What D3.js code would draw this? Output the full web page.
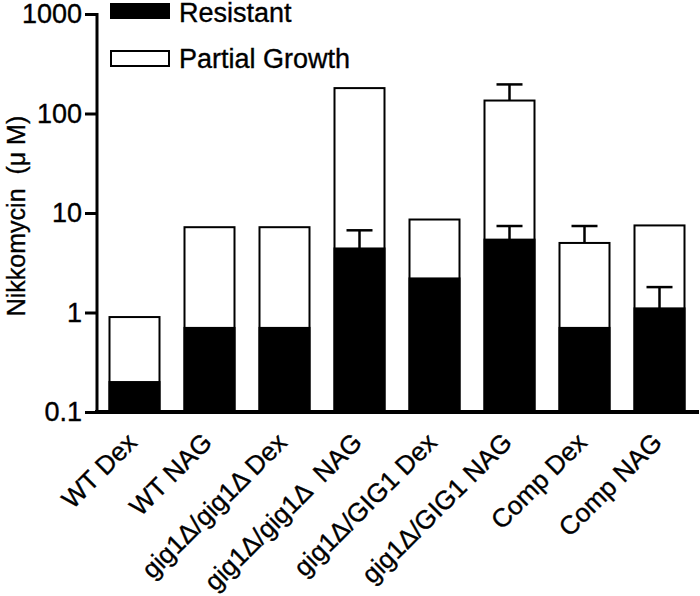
<!DOCTYPE html>
<html><head><meta charset="utf-8">
<script src="https://cdn.jsdelivr.net/npm/d3@7"></script>
<style>body{margin:0;background:#fff}svg{display:block}text{font-family:"Liberation Sans",Arial,sans-serif;fill:#000;white-space:pre;stroke:#000;stroke-width:0.35px}</style>
</head><body>
<svg id="c" width="700" height="596"></svg>
<script>
const categories = ["WT Dex","WT NAG","gig1\u0394/gig1\u0394 Dex","gig1\u0394/gig1\u0394  NAG","gig1\u0394/GIG1 Dex","gig1\u0394/GIG1 NAG","Comp Dex","Comp NAG"];
const resistant = [0.2, 0.7, 0.7, 4.4, 2.2, 5.4, 0.7, 1.1];
const resistantErr = [null, null, null, 6.7, null, 7.4, null, 1.8];
const partial = [0.9, 7.2, 7.2, 180, 8.6, 135, 5.0, 7.5];
const partialErr = [null, null, null, null, null, 196, 7.4, null];
const yTicks = [0.1, 1, 10, 100, 1000];
const yTickLabels = ["0.1","1","10","100","1000"];
const seriesNames = ["Resistant","Partial Growth"];

const svg = d3.select("#c");
const x = d3.scaleBand().domain(categories).range([97, 697]).paddingInner(1/3).paddingOuter(1/6);
const y = d3.scaleLog().domain([0.1, 1000]).range([412, 14]);
const bw = x.bandwidth();

// partial growth bars (white)
svg.append("g").selectAll("rect").data(categories).join("rect")
  .attr("x", d => x(d)).attr("width", bw)
  .attr("y", (d,i) => y(partial[i])).attr("height", (d,i) => y(0.1) - y(partial[i]))
  .attr("fill", "#fff").attr("stroke", "#000").attr("stroke-width", 2);
// resistant bars (black)
svg.append("g").selectAll("rect").data(categories).join("rect")
  .attr("x", d => x(d)).attr("width", bw)
  .attr("y", (d,i) => y(resistant[i])).attr("height", (d,i) => y(0.1) - y(resistant[i]))
  .attr("fill", "#000").attr("stroke", "#000").attr("stroke-width", 2);

// error bars
function errBars(vals, errs) {
  const g = svg.append("g").attr("stroke", "#000").attr("stroke-width", 2.5);
  categories.forEach((c, i) => {
    if (errs[i] == null) return;
    const cx = x(c) + bw / 2;
    g.append("line").attr("x1", cx).attr("x2", cx).attr("y1", y(vals[i])).attr("y2", y(errs[i]));
    g.append("line").attr("x1", cx - 13).attr("x2", cx + 13).attr("y1", y(errs[i])).attr("y2", y(errs[i]));
  });
}
errBars(partial, partialErr);
errBars(resistant, resistantErr);

// y axis
const yAxis = d3.axisLeft(y).tickValues(yTicks).tickFormat((d,i) => yTickLabels[i]).tickSize(12).tickPadding(3);
const ya = svg.append("g").attr("transform", "translate(97,0)").call(yAxis);
ya.select(".domain").attr("stroke-width", 3).attr("d", "M0,13V414");
ya.selectAll(".tick line").attr("stroke-width", 3);
ya.selectAll(".tick text").style("font-size", "27px").attr("font-family", null);

// x axis baseline
const xa = svg.append("g").attr("transform", "translate(0,412)").call(d3.axisBottom(x).tickSize(0).tickPadding(0));
xa.select(".domain").attr("stroke-width", 4).attr("d", "M95,0H699");
xa.selectAll(".tick text")
  .style("font-size", "26px").attr("font-family", null)
  .attr("text-anchor", "end")
  .attr("transform", "translate(4,32) rotate(-45)")
  .attr("dy", 0).attr("y", 0).attr("x", 0);

// y title
svg.append("text").attr("transform", "translate(25,216) rotate(-90)")
  .attr("text-anchor", "middle").style("font-size", "25px").text("Nikkomycin  (\u03bc M)");

// legend
const lg = svg.append("g");
lg.append("rect").attr("x", 111).attr("y", 4).attr("width", 58).attr("height", 14).attr("fill", "#000").attr("stroke", "#000").attr("stroke-width", 2);
lg.append("rect").attr("x", 111).attr("y", 51).attr("width", 58).attr("height", 15).attr("fill", "#fff").attr("stroke", "#000").attr("stroke-width", 2);
lg.append("text").attr("x", 179).attr("y", 22).style("font-size", "27px").text(seriesNames[0]);
lg.append("text").attr("x", 179).attr("y", 68).style("font-size", "27px").text(seriesNames[1]);
</script>
</body></html>
